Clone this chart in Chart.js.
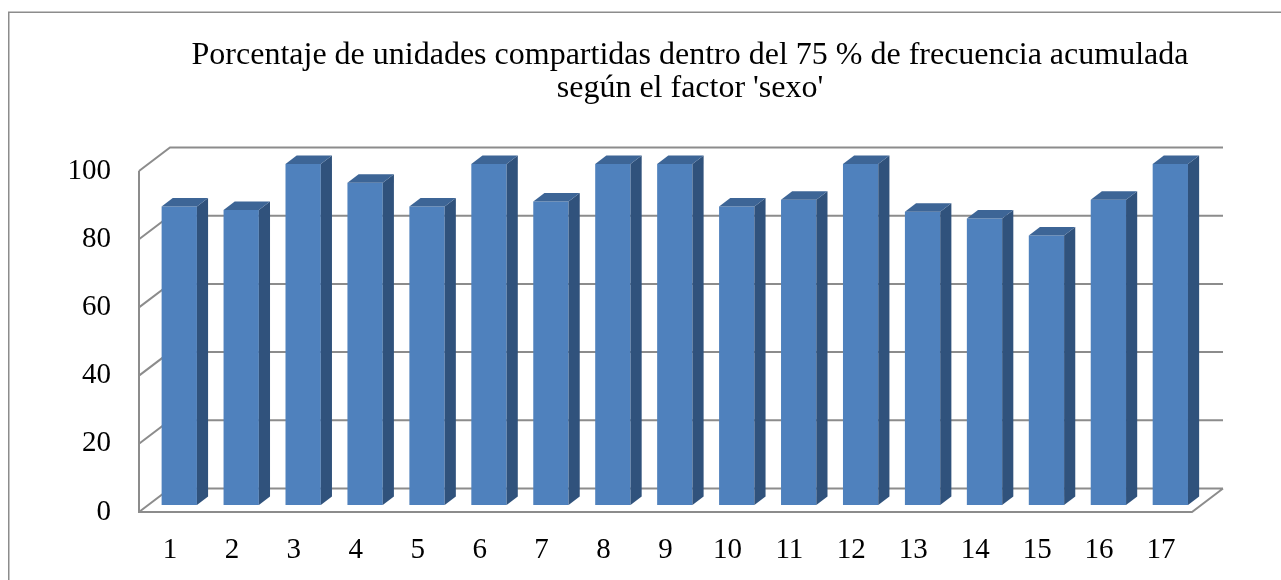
<!DOCTYPE html>
<html>
<head>
<meta charset="utf-8">
<script src="https://cdn.jsdelivr.net/npm/chart.js@4.4.0/dist/chart.umd.min.js"></script>
<style>
  html, body { margin: 0; padding: 0; background: #fff; }
  canvas { display: block; }
</style>
</head>
<body>
<canvas id="c" width="1281" height="580"></canvas>
<script>
const titleLines = ["Porcentaje de unidades compartidas dentro del 75 % de frecuencia acumulada", "según el factor 'sexo'"];
const categories = ['1','2','3','4','5','6','7','8','9','10','11','12','13','14','15','16','17'];
const values = [87.5, 86.5, 100, 94.5, 87.5, 100, 89, 100, 100, 87.5, 89.5, 100, 86, 84, 79, 89.5, 100];
const yTicks = [0, 20, 40, 60, 80, 100];

const FONT = "'Liberation Serif', 'Times New Roman', serif";
const GRID = '#8c8c8c';
const DEPTH = { x: 31, y: -23.5 };     // floor/wall depth
const BAR_OFF = 0.3;                   // bar front plane position in depth
const BAR_DEPTH = 0.36;                // bar depth fraction

const frame3d = {
  id: 'frame3d',
  beforeDraw(chart) {
    const ctx = chart.ctx;
    ctx.save();
    ctx.fillStyle = '#fff';
    ctx.fillRect(0, 0, chart.width, chart.height);
    ctx.strokeStyle = GRID;
    ctx.lineWidth = 1.5;
    ctx.beginPath();
    ctx.moveTo(8.75, chart.height);
    ctx.lineTo(8.75, 12.25);
    ctx.lineTo(chart.width, 12.25);
    ctx.stroke();
    // title
    ctx.fillStyle = '#000';
    ctx.font = "32px " + FONT;
    ctx.textAlign = 'center';
    ctx.textBaseline = 'alphabetic';
    ctx.fillText(titleLines[0], 690, 64);
    ctx.fillText(titleLines[1], 690, 97);
    ctx.restore();
  },
  beforeDatasetsDraw(chart) {
    const ctx = chart.ctx;
    const a = chart.chartArea;
    const ys = chart.scales.y;
    ctx.save();
    ctx.strokeStyle = GRID;
    ctx.lineWidth = 2;
    ctx.lineCap = 'butt';
    ctx.beginPath();
    yTicks.forEach(v => {
      const y = ys.getPixelForValue(v);
      ctx.moveTo(a.left, y);
      ctx.lineTo(a.left + DEPTH.x, y + DEPTH.y);
      ctx.lineTo(a.right + DEPTH.x, y + DEPTH.y);
    });
    const y0 = ys.getPixelForValue(0);
    const yTop = ys.getPixelForValue(yTicks[yTicks.length - 1]);
    ctx.moveTo(a.left, yTop);
    ctx.lineTo(a.left, y0);
    ctx.lineTo(a.right, y0);
    ctx.lineTo(a.right + DEPTH.x, y0 + DEPTH.y);
    ctx.stroke();
    ctx.restore();
    ctx.save();
    ctx.translate(DEPTH.x * BAR_OFF, DEPTH.y * BAR_OFF);
  },
  afterDatasetsDraw(chart) {
    const ctx = chart.ctx;
    const dx = DEPTH.x * BAR_DEPTH, dy = DEPTH.y * BAR_DEPTH;
    const meta = chart.getDatasetMeta(0);
    meta.data.forEach(bar => {
      const p = bar.getProps(['x', 'y', 'width', 'base'], true);
      const l = p.x - p.width / 2, r = p.x + p.width / 2;
      ctx.fillStyle = '#30527c';
      ctx.beginPath();
      ctx.moveTo(r, p.y);
      ctx.lineTo(r + dx, p.y + dy);
      ctx.lineTo(r + dx, p.base + dy);
      ctx.lineTo(r, p.base);
      ctx.closePath();
      ctx.fill();
      ctx.fillStyle = '#3d6596';
      ctx.beginPath();
      ctx.moveTo(l, p.y);
      ctx.lineTo(l + dx, p.y + dy);
      ctx.lineTo(r + dx, p.y + dy);
      ctx.lineTo(r, p.y);
      ctx.closePath();
      ctx.fill();
    });
    ctx.restore();
  }
};

new Chart(document.getElementById('c'), {
  type: 'bar',
  data: {
    labels: categories,
    datasets: [{
      data: values,
      backgroundColor: '#4f81bd',
      borderWidth: 0,
      categoryPercentage: 1,
      barPercentage: 0.57,
      clip: false
    }]
  },
  options: {
    responsive: false,
    animation: false,
    events: [],
    devicePixelRatio: 1,
    layout: { padding: { left: 0, right: 89, top: 171, bottom: 0 } },
    plugins: {
      legend: { display: false },
      tooltip: { enabled: false },
      title: { display: false }
    },
    scales: {
      x: {
        grid: { display: false, drawTicks: false },
        border: { display: false },
        ticks: { color: '#000', font: { family: FONT, size: 29 }, padding: 21, maxRotation: 0 },
        afterFit(s) { s.height = 68; }
      },
      y: {
        min: 0, max: 100,
        afterBuildTicks(s) { s.ticks = yTicks.map(v => ({ value: v })); },
        grid: { display: false, drawTicks: false },
        border: { display: false },
        ticks: { color: '#000', font: { family: FONT, size: 29 }, padding: 28 },
        afterFit(s) { s.width = 139; }
      }
    }
  },
  plugins: [frame3d]
});
</script>
</body>
</html>
